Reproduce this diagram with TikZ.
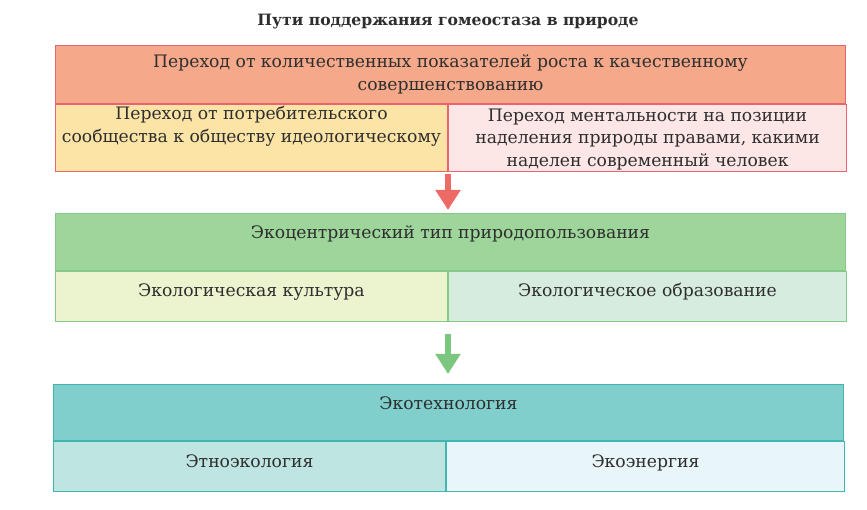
\documentclass[tikz,border=0pt]{standalone}
\usepackage{fontspec}
\setmainfont{DejaVu Serif}
\usetikzlibrary {positioning}
\usetikzlibrary{arrows.meta}
\definecolor{ink}{HTML}{2E2E2E}
\definecolor{peach}{HTML}{F5A98A}
\definecolor{rose}{HTML}{E9646F}
\definecolor{butter}{HTML}{FCE4A6}
\definecolor{blush}{HTML}{FDE6E6}
\definecolor{redarrow}{HTML}{EE6A66}
\definecolor{leaf}{HTML}{9DD59B}
\definecolor{leafline}{HTML}{86C887}
\definecolor{lime}{HTML}{ECF3CF}
\definecolor{mint}{HTML}{D5ECDF}
\definecolor{greenarrow}{HTML}{7DC67F}
\definecolor{teal}{HTML}{80CFCD}
\definecolor{tealline}{HTML}{41B5B2}
\definecolor{aqua}{HTML}{BFE5E3}
\definecolor{ice}{HTML}{E8F6F9}

\begin{document}
\begin{tikzpicture}[
  x = 1pt, y = -1pt,
  cell/.style = {draw, line width=1pt, inner sep=0pt, align=center, anchor=north west,
                 text=ink, font=\fontsize{17.2}{22.5}\selectfont},
  head/.style = {cell, minimum width=790pt},
  left/.style = {cell, minimum width=392pt, minimum height=50pt},
  right/.style = {cell, minimum width=398pt, minimum height=50pt},
  headline/.style = {text height=12pt, text depth=19pt},
  rowline/.style = {text height=12pt, text depth=11pt},
  blockarrow/.style = {line width=6pt, shorten <=2pt, shorten >=3pt,
                       -{Triangle[width=24pt, length=20pt]}},
]

  \useasboundingbox[fill=white] (0,0) rectangle (867,510);

  \node[font=\fontsize{15.6}{18}\selectfont\bfseries, text=ink] (title) at (448,22)
    {Пути поддержания гомеостаза в природе};

  % first block
  \node[head, fill=peach, draw=rose, minimum height=58pt] (growth) at (55,45)
    {Переход от количественных показателей роста к качественному\\совершенствованию};
  \node[left, fill=butter, draw=rose, minimum height=67pt] (consumer) at (growth.south west)
    {\rule{0pt}{15pt}Переход от потребительского\\сообщества к обществу идеологическому\\\strut};
  \node[right, fill=blush, draw=rose, minimum height=67pt] (mentality) at (consumer.north east)
    {\rule{0pt}{15pt}Переход ментальности на позиции\\наделения природы правами, какими\\наделен современный человек};

  % second block
  \node[head, headline, fill=leaf, draw=leafline, minimum height=57pt] (ecocentric) at (55,213)
    {Экоцентрический тип природопользования};
  \node[left, rowline, fill=lime, draw=leafline] (culture) at (ecocentric.south west)
    {Экологическая культура};
  \node[right, rowline, fill=mint, draw=leafline] (education) at (culture.north east)
    {Экологическое образование};

  % third block
  \node[head, headline, fill=teal, draw=tealline, minimum height=56pt] (ecotech) at (53,384)
    {Экотехнология};
  \node[left, rowline, fill=aqua, draw=tealline] (ethno) at (ecotech.south west)
    {Этноэкология};
  \node[right, rowline, fill=ice, draw=tealline] (energy) at (ethno.north east)
    {Экоэнергия};

  \draw[blockarrow, redarrow] (consumer.south east) -- (ecocentric.north -| consumer.south east);
  \draw[blockarrow, greenarrow, shorten <=12pt, shorten >=10pt] (culture.south east) -- (ecotech.north -| culture.south east);

\end{tikzpicture}
\end{document}
